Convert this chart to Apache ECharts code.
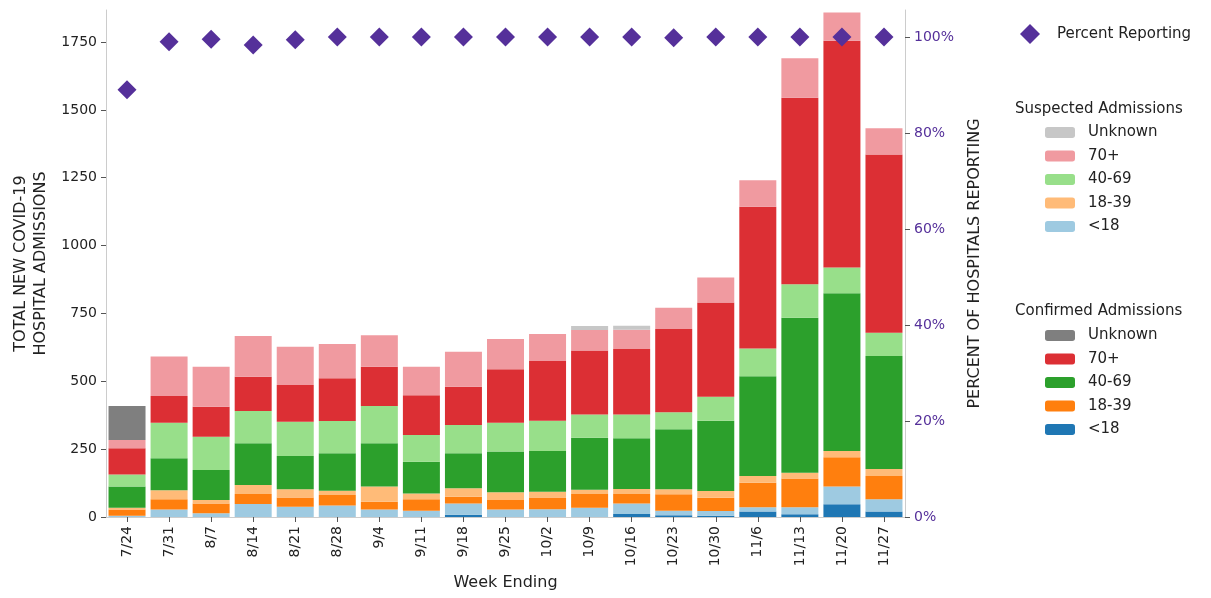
<!DOCTYPE html>
<html>
<head>
<meta charset="utf-8">
<script src="https://cdn.jsdelivr.net/npm/echarts@6/dist/echarts.min.js"></script>
<style>
html,body{margin:0;padding:0;background:#fff;}
#chart{width:1211px;height:598px;}
</style>
</head>
<body>
<div id="chart"></div>
<script>
const weeks = ['7/24','7/31','8/7','8/14','8/21','8/28','9/4','9/11','9/18','9/25','10/2','10/9','10/16','10/23','10/30','11/6','11/13','11/20','11/27'];

const confirmedUnder18   = [0,0,0,0,0,0,0,0,8,0,0,0,11,6,5,20,10,47,20];
const suspectedUnder18   = [5,28,14,48,38,42,28,23,42,28,29,34,39,17,17,16,26,65,45];
const confirmed18to39    = [23,37,36,37,34,39,28,42,25,35,43,51,35,61,49,90,106,108,86];
const suspected18to39    = [6,34,13,33,30,16,56,22,31,28,21,15,18,18,25,25,21,23,26];
const confirmed40to69    = [78,117,110,154,123,138,160,117,129,150,150,192,187,221,259,368,571,581,416];
const suspected40to69    = [45,131,123,119,126,119,137,98,104,106,112,86,88,63,88,102,124,95,86];
const confirmed70plus    = [96,99,110,126,135,157,145,147,141,197,220,235,241,307,347,522,687,836,657];
const suspected70plus    = [31,145,148,150,141,126,116,105,129,112,99,76,71,78,92,98,145,104,96];
const confirmedUnknown   = [125,0,0,0,0,0,0,0,0,0,0,0,0,0,0,0,0,0,0];
const suspectedUnknown   = [0,0,0,0,0,0,0,0,0,0,0,15,15,0,0,0,0,0,0];
const percentReporting   = [89,99,99.5,98.3,99.4,100,100,100,100,100,100,100,100,99.8,100,100,100,100,100];

const leftTicks = [0,250,500,750,1000,1250,1500,1750];
const rightTicks = [0,20,40,60,80,100];

const FONT = 'DejaVu Sans';
const PURPLE = '#55309a';

const stackDefs = [
  ['Confirmed <18', confirmedUnder18, '#1f77b4'],
  ['Suspected <18', suspectedUnder18, '#9ecae1'],
  ['Confirmed 18-39', confirmed18to39, '#ff7f0e'],
  ['Suspected 18-39', suspected18to39, '#ffbb78'],
  ['Confirmed 40-69', confirmed40to69, '#2ca02c'],
  ['Suspected 40-69', suspected40to69, '#98df8a'],
  ['Confirmed 70+', confirmed70plus, '#dc2f34'],
  ['Suspected 70+', suspected70plus, '#f09aa0'],
  ['Confirmed Unknown', confirmedUnknown, '#7f7f7f'],
  ['Suspected Unknown', suspectedUnknown, '#c7c7c7']
];

const series = stackDefs.map(([name, data, color]) => ({
  name, type: 'bar', stack: 'adm', data, barWidth: 37,
  itemStyle: { color }, emphasis: { disabled: true }
}));
series.push({
  name: 'Percent Reporting', type: 'scatter', yAxisIndex: 1, data: percentReporting,
  symbol: 'diamond', symbolSize: 19, itemStyle: { color: PURPLE, opacity: 1 }, z: 5
});

const chart = echarts.init(document.getElementById('chart'));
const legendText = { fontFamily: FONT, fontSize: 15, color: '#222' };
chart.setOption({
  animation: false,
  textStyle: { fontFamily: FONT },
  grid: { left: 106, right: 306, top: 10, bottom: 81 },
  legend: [
    { data: [{ name: 'Percent Reporting', icon: 'diamond', itemStyle: { color: PURPLE, opacity: 1 } }],
      left: 1015, top: 19, orient: 'vertical', padding: 5,
      itemWidth: 20, itemHeight: 20, textStyle: Object.assign({ padding: [0, 0, 0, 12] }, legendText) },
    { data: ['Suspected Unknown','Suspected 70+','Suspected 40-69','Suspected 18-39','Suspected <18'],
      left: 1040, top: 120, orient: 'vertical', padding: 5, itemWidth: 30, itemHeight: 11, itemGap: 8.5,
      formatter: n => n.replace('Suspected ', ''), textStyle: Object.assign({ padding: [0, 0, 0, 8] }, legendText) },
    { data: ['Confirmed Unknown','Confirmed 70+','Confirmed 40-69','Confirmed 18-39','Confirmed <18'],
      left: 1040, top: 323, orient: 'vertical', padding: 5, itemWidth: 30, itemHeight: 11, itemGap: 8.5,
      formatter: n => n.replace('Confirmed ', ''), textStyle: Object.assign({ padding: [0, 0, 0, 8] }, legendText) }
  ],
  graphic: [
    { type: 'text', left: 1015, top: 102, style: { text: 'Suspected Admissions', font: '15px "DejaVu Sans"', fill: '#222' } },
    { type: 'text', left: 1015, top: 304, style: { text: 'Confirmed Admissions', font: '15px "DejaVu Sans"', fill: '#222' } }
  ],
  xAxis: {
    type: 'category', data: weeks,
    name: 'Week Ending', nameLocation: 'middle', nameGap: 58,
    nameTextStyle: { fontSize: 16, color: '#222', fontFamily: FONT },
    axisLine: { show: true, lineStyle: { color: '#cccccc' } },
    axisTick: { show: true, alignWithLabel: true, length: 5, lineStyle: { color: '#555' } },
    axisLabel: { rotate: 90, fontSize: 14, color: '#222', margin: 9 }
  },
  yAxis: [
    { type: 'value', min: 0, max: 1868,
      name: 'TOTAL NEW COVID-19\nHOSPITAL ADMISSIONS', nameLocation: 'middle', nameGap: 54,
      nameTextStyle: { fontSize: 16, color: '#222', fontFamily: FONT, lineHeight: 20 },
      axisLine: { show: true, lineStyle: { color: '#cccccc' } },
      axisTick: { show: true, length: 5, customValues: leftTicks, lineStyle: { color: '#555' } },
      axisLabel: { fontSize: 14, color: '#222', customValues: leftTicks, formatter: v => String(v), margin: 9 },
      splitLine: { show: false } },
    { type: 'value', min: 0, max: 105.6, position: 'right',
      name: 'PERCENT OF HOSPITALS REPORTING', nameLocation: 'middle', nameGap: 62, nameRotate: 90,
      nameTextStyle: { fontSize: 16, color: '#222', fontFamily: FONT },
      axisLine: { show: true, lineStyle: { color: '#cccccc' } },
      axisTick: { show: true, length: 5, customValues: rightTicks, lineStyle: { color: '#555' } },
      axisLabel: { fontSize: 14, color: PURPLE, customValues: rightTicks, formatter: v => v + '%', margin: 9 },
      splitLine: { show: false } }
  ],
  series
});
</script>
</body>
</html>
